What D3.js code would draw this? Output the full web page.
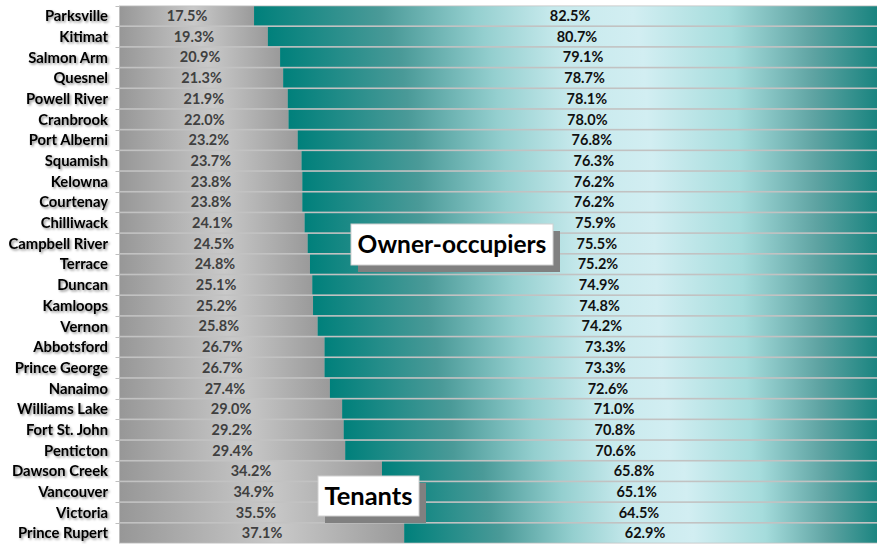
<!DOCTYPE html>
<html><head><meta charset="utf-8">
<script src="https://cdn.jsdelivr.net/npm/d3@7"></script>
<style>
html,body{margin:0;padding:0;background:#fff;overflow:hidden;}
svg{display:block;font-family:Lato,"Open Sans",sans-serif;}
</style></head>
<body>
<svg id="chart" width="877" height="544"></svg>
<script>
const categories = ["Parksville","Kitimat","Salmon Arm","Quesnel","Powell River","Cranbrook","Port Alberni","Squamish","Kelowna","Courtenay","Chilliwack","Campbell River","Terrace","Duncan","Kamloops","Vernon","Abbotsford","Prince George","Nanaimo","Williams Lake","Fort St. John","Penticton","Dawson Creek","Vancouver","Victoria","Prince Rupert"];
const tenants = [17.5,19.3,20.9,21.3,21.9,22.0,23.2,23.7,23.8,23.8,24.1,24.5,24.8,25.1,25.2,25.8,26.7,26.7,27.4,29.0,29.2,29.4,34.2,34.9,35.5,37.1];
const owners = [82.5,80.7,79.1,78.7,78.1,78.0,76.8,76.3,76.2,76.2,75.9,75.5,75.2,74.9,74.8,74.2,73.3,73.3,72.6,71.0,70.8,70.6,65.8,65.1,64.5,62.9];
const seriesNames = ["Tenants","Owner-occupiers"];

const svg = d3.select("#chart");
const x = d3.scaleLinear().domain([0,100]).range([120,886]);
const y = d3.scaleBand().domain(categories).range([5.5,543.5]).padding(0);

const defs = svg.append("defs");
const gGray = defs.append("linearGradient").attr("id","gGray");
[[0,"#979797"],[0.55,"#c9c9c9"],[1,"#9a9a9a"]].forEach(s=>gGray.append("stop").attr("offset",s[0]).attr("stop-color",s[1]));
const gTeal = defs.append("linearGradient").attr("id","gTeal");
[[0,"#00807b"],[0.2,"#4a9a98"],[0.35,"#94cfcf"],[0.47,"#c6e9ec"],[0.6,"#d2eef2"],[0.75,"#a5dcdc"],[0.88,"#5ea3a2"],[1,"#10807b"]].forEach(s=>gTeal.append("stop").attr("offset",s[0]).attr("stop-color",s[1]));
const sh = defs.append("filter").attr("id","tshadow").attr("x","-10%").attr("y","-30%").attr("width","130%").attr("height","180%");
sh.append("feDropShadow").attr("dx",1.5).attr("dy",1.5).attr("stdDeviation",1.2).attr("flood-color","#000").attr("flood-opacity",0.45);

svg.append("rect").attr("x",x(0)).attr("y",y.range()[0]).attr("width",x(100)-x(0)).attr("height",y.range()[1]-y.range()[0]).attr("fill","#c2c2c2");

const rows = svg.selectAll("g.row").data(categories).join("g").attr("class","row");
rows.append("rect")
  .attr("x",x(0)).attr("y",d=>y(d)+0.8).attr("height",y.bandwidth()-1.6)
  .attr("width",(d,i)=>x(tenants[i])-x(0)).attr("fill","url(#gGray)");
rows.append("rect")
  .attr("x",(d,i)=>x(tenants[i])).attr("y",d=>y(d)+0.8).attr("height",y.bandwidth()-1.6)
  .attr("width",(d,i)=>x(tenants[i]+owners[i])-x(tenants[i])).attr("fill","url(#gTeal)");

rows.append("text")
  .attr("x",(d,i)=>(x(0)+x(tenants[i]))/2).attr("y",d=>y(d)+y.bandwidth()/2)
  .attr("dy","0.36em").attr("text-anchor","middle").attr("font-size",14.5).attr("font-weight","bold")
  .attr("fill","#404040").text((d,i)=>tenants[i].toFixed(1)+"%");
rows.append("text")
  .attr("x",(d,i)=>(x(tenants[i])+x(tenants[i]+owners[i]))/2).attr("y",d=>y(d)+y.bandwidth()/2)
  .attr("dy","0.36em").attr("text-anchor","middle").attr("font-size",14.5).attr("font-weight","bold")
  .attr("fill","#111").text((d,i)=>owners[i].toFixed(1)+"%");

const ax = svg.append("g");
ax.append("line").attr("x1",119.5).attr("x2",119.5).attr("y1",y.range()[0]).attr("y2",y.range()[1]).attr("stroke","#bfbfbf");
const bounds = categories.map(c=>y(c)).concat([y.range()[1]]);
ax.selectAll("line.tk").data(bounds).join("line").attr("class","tk")
  .attr("x1",115.5).attr("x2",119.5).attr("y1",d=>Math.round(d)+0.5).attr("y2",d=>Math.round(d)+0.5).attr("stroke","#bfbfbf");
ax.selectAll("text").data(categories).join("text")
  .attr("x",108).attr("y",d=>y(d)+y.bandwidth()/2).attr("dy","0.36em")
  .attr("text-anchor","end").attr("font-size",14.8).attr("font-weight","bold").attr("fill","#000")
  .attr("filter","url(#tshadow)").text(d=>d);

function box(label, cx, cy, w, h, fs){
  const g = svg.append("g");
  g.append("rect").attr("x",cx+7).attr("y",cy+7).attr("width",w).attr("height",h).attr("fill","#808080");
  g.append("rect").attr("x",cx).attr("y",cy).attr("width",w).attr("height",h).attr("fill","#fff").attr("stroke","#d0d0d0");
  g.append("text").attr("x",cx+w/2).attr("y",cy+h/2).attr("dy","0.36em").attr("text-anchor","middle")
    .attr("font-size",fs).attr("font-weight","bold").attr("fill","#000").text(label);
}
box(seriesNames[1], 351, 224, 202, 41, 24.5);
box(seriesNames[0], 318, 476, 101, 40, 25.5);
</script>
</body></html>
